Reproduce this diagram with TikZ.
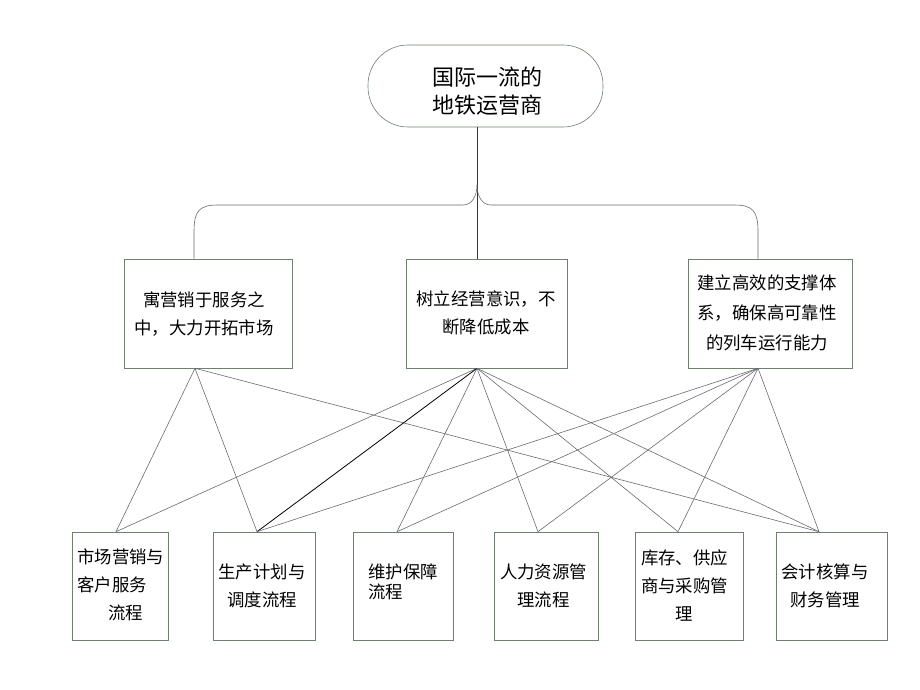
\documentclass[tikz,border=0pt]{standalone}
\usepackage{fontspec}
\newfontfamily\cjk{Noto Sans CJK SC}
\definecolor{boxc}{RGB}{112,128,112}
\definecolor{linec}{RGB}{112,104,118}
\begin{document}
\begin{tikzpicture}[x=1pt,y=-1pt,
  boxs/.style={draw=boxc,line width=0.6pt,inner sep=0pt},
  txt/.style={inner sep=0pt,font=\cjk\fontsize{17.4pt}{28pt}\selectfont},
  conn/.style={draw=linec,line width=0.6pt},
  strong/.style={draw=black,line width=0.8pt}]
\useasboundingbox (0,0) rectangle (920,690);
\fill[white] (0,0) rectangle (920,690);
% top
\node[boxs,rounded corners=40pt,minimum width=235pt,minimum height=82pt] (top) at (485.5,86) {};
\node[inner sep=0pt,align=center,font=\cjk\fontsize{22pt}{28pt}\selectfont] (toptxt) at (487,91) {国际一流的\\地铁运营商};
% middle level
\node[boxs,minimum width=168pt,minimum height=109pt] (L) at (208,313.5) {};
\node[boxs,minimum width=161pt,minimum height=109pt] (M) at (486.5,313.5) {};
\node[boxs,minimum width=164pt,minimum height=109pt] (R) at (770,313.5) {};
\node[txt,align=center] (Lt) at (204,314) {寓营销于服务之\\中，大力开拓市场};
\node[txt,align=center] (Mt) at (486,312.5) {树立经营意识，不\\断降低成本};
\node[txt,align=center,font=\cjk\fontsize{17.4pt}{30pt}\selectfont] (Rt) at (767,313) {建立高效的支撑体\\系，确保高可靠性\\的列车运行能力};
% bottom level
\node[boxs,minimum width=96pt,minimum height=108pt] (b1) at (120,586) {};
\node[boxs,minimum width=102pt,minimum height=108pt] (b2) at (264,586) {};
\node[boxs,minimum width=100pt,minimum height=108pt] (b3) at (403,586) {};
\node[boxs,minimum width=104pt,minimum height=108pt] (b4) at (546,586) {};
\node[boxs,minimum width=108pt,minimum height=108pt] (b5) at (689,586) {};
\node[boxs,minimum width=111pt,minimum height=108pt] (b6) at (831.5,586) {};
\node[txt,align=left,anchor=west] (b1t) at (77,585) {市场营销与\\客户服务\\\hspace*{31pt}流程};
\node[txt,align=center] (b2t) at (262,586) {生产计划与\\调度流程};
\node[txt,align=left,anchor=west,font=\cjk\fontsize{17.4pt}{20pt}\selectfont] (b3t) at (368,582) {维护保障\\流程};
\node[txt,align=center] (b4t) at (543.5,586) {人力资源管\\理流程};
\node[txt,align=center] (b5t) at (684.5,586) {库存、供应\\商与采购管\\理};
\node[txt,align=center] (b6t) at (825,586) {会计核算与\\财务管理};
% attachment points
\coordinate (topS) at (top.south -| 477,0);
\coordinate (Ln) at (L.north -| 194,0);
\coordinate (Mn) at (M.north -| 477,0);
\coordinate (Rn) at (R.north -| 758,0);
\coordinate (Ls) at (L.south -| 195,0);
\coordinate (Ms) at (M.south -| 477,0);
\coordinate (Rs) at (R.south -| 758,0);
\coordinate (b1n) at (b1.north -| 116,0);
\coordinate (b2n) at (b2.north -| 257,0);
\coordinate (b3n) at (b3.north -| 397,0);
\coordinate (b4n) at (b4.north -| 538,0);
\coordinate (b5n) at (b5.north -| 678,0);
\coordinate (b6n) at (b6.north -| 819,0);
% tree
\draw[conn,draw=black!80] (topS) -- (Mn);
\draw[conn] (Ln) -- (194,232) .. controls (194,211) and (199,205) .. (218,205) -- (463,205) .. controls (472,205) and (477,196) .. (477,185);
\draw[conn] (Rn) -- (758,232) .. controls (758,211) and (753,205) .. (734,205) -- (491,205) .. controls (482,205) and (477,196) .. (477,185);
% links
\draw[conn] (Ls) -- (b1n);
\draw[conn] (Ls) -- (b2n);
\draw[conn] (Ls) -- (b6n);
\draw[conn] (Ms) -- (b1n);
\draw[strong] (Ms) -- (b2n);
\draw[conn] (Ms) -- (b3n);
\draw[conn] (Ms) -- (b4n);
\draw[conn] (Ms) -- (b5n);
\draw[conn] (Ms) -- (b6n);
\draw[conn] (Rs) -- (b2n);
\draw[conn] (Rs) -- (b3n);
\draw[conn] (Rs) -- (b4n);
\draw[conn] (Rs) -- (b5n);
\draw[conn] (Rs) -- (b6n);
\end{tikzpicture}
\end{document}
